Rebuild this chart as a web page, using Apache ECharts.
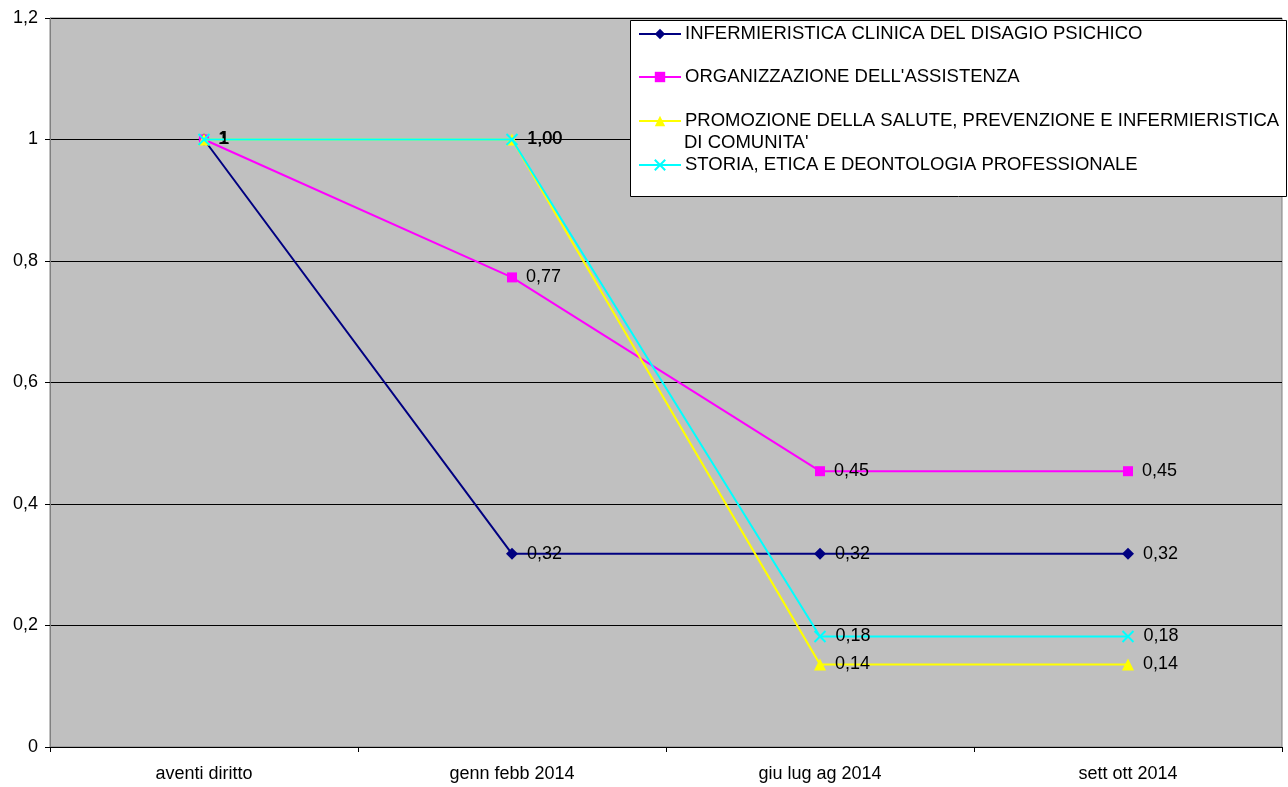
<!DOCTYPE html>
<html><head><meta charset="utf-8">
<script src="https://cdn.jsdelivr.net/npm/echarts@6/dist/echarts.min.js"></script>
<style>html,body{margin:0;padding:0;background:#fff}#c{width:1288px;height:787px}</style>
</head><body><div id="c"></div>
<script>
const categories = ['aventi diritto', 'genn febb 2014', 'giu lug ag 2014', 'sett ott 2014'];
const seriesNames = [
  'INFERMIERISTICA CLINICA DEL DISAGIO PSICHICO',
  "ORGANIZZAZIONE DELL'ASSISTENZA",
  "PROMOZIONE DELLA SALUTE, PREVENZIONE E INFERMIERISTICA\nDI COMUNITA'",
  'STORIA, ETICA E DEONTOLOGIA PROFESSIONALE'
];
const infermieristica = [1, 0.318, 0.318, 0.318];
const organizzazione = [1, 0.773, 0.454, 0.454];
const promozione = [1, 1, 0.136, 0.136];
const storia = [1, 1, 0.182, 0.182];
const yTicks = [0, 0.2, 0.4, 0.6, 0.8, 1, 1.2];

const colors = ['#000080', '#FF00FF', '#FFFF00', '#00FFFF'];
const symbols = ['diamond', 'rect', 'triangle', 'path://M0,0L10,10M10,0L0,10'];
const symbolSizes = [12, 10, 12, 11];
const dataSets = [infermieristica, organizzazione, promozione, storia];
const FONT = 'Liberation Sans, Arial, sans-serif';

function fmt(v, i) {
  if (i === 0) return String(v).replace('.', ',');
  return v.toFixed(2).replace('.', ',');
}

const series = dataSets.map((d, k) => ({
  name: seriesNames[k],
  type: 'line',
  data: d,
  symbol: symbols[k],
  symbolSize: symbolSizes[k],
  lineStyle: { color: colors[k], width: 2 },
  itemStyle: { color: colors[k], borderColor: colors[k], borderWidth: k === 3 ? 2 : 0 },
  label: {
    show: true, position: 'right', distance: 9, color: '#000',
    fontFamily: FONT, fontSize: 18,
    formatter: p => fmt(p.value, p.dataIndex)
  },
  emphasis: { disabled: true },
  animation: false,
  z: 2 + k
}));

const legendTops = [24, 67, 111, 155];
const legends = seriesNames.map((n, k) => ({
  data: [n],
  left: 638, top: legendTops[k],
  itemWidth: 42, itemHeight: 13, itemGap: 4,
  selectedMode: false,
  formatter: name => name.split('\n')[0],
  textStyle: { color: '#000', fontFamily: FONT, fontSize: 18.5, lineHeight: 20, padding: [0, 0, 0, -1] },
  padding: 0,
  z: 20
}));

const chart = echarts.init(document.getElementById('c'), null, { renderer: 'canvas' });
chart.setOption({
  animation: false,
  backgroundColor: '#fff',
  grid: { left: 50, right: 6, top: 18, bottom: 40, show: true, backgroundColor: '#C0C0C0', borderColor: '#808080', borderWidth: 1 },
  xAxis: {
    type: 'category', data: categories, boundaryGap: true,
    axisLine: { lineStyle: { color: '#000', width: 1 } },
    axisTick: { show: true, length: 5, lineStyle: { color: '#000' } },
    axisLabel: { color: '#000', fontFamily: FONT, fontSize: 18, margin: 18 }
  },
  yAxis: {
    type: 'value', min: 0, max: 1.2, interval: 0.2,
    axisLine: { show: true, lineStyle: { color: '#808080', width: 1 } },
    axisTick: { show: true, length: 5, lineStyle: { color: '#000' } },
    splitLine: { lineStyle: { color: '#000', width: 1 } },
    axisLabel: { color: '#000', fontFamily: FONT, fontSize: 18, margin: 12,
      formatter: v => String(+v.toFixed(1)).replace('.', ',') }
  },
  legend: legends,
  graphic: [
    { type: 'rect', left: 630, top: 20, z: 15, shape: { width: 656, height: 176 },
      style: { fill: '#fff', stroke: '#000', lineWidth: 1 } },
    { type: 'text', left: 684, top: 133, z: 20,
      style: { text: seriesNames[2].split('\n')[1], fill: '#000', font: '18.5px "Liberation Sans", Arial, sans-serif' } }
  ],
  series: series
});
</script>
</body></html>
